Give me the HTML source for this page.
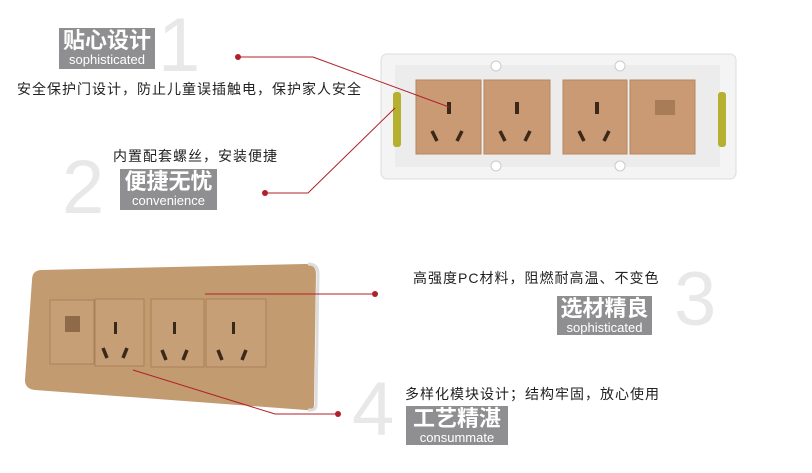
<!DOCTYPE html>
<html><head><meta charset="utf-8"><style>
body{margin:0;width:812px;height:473px;background:#fff;position:relative;overflow:hidden;font-family:"Liberation Sans","Noto Sans CJK SC",sans-serif}
.a{position:absolute}
.box{position:absolute;background:#8f8f91;color:#fff;text-align:center;line-height:1}
.box .c{font-size:22px;font-weight:bold;display:block;margin-top:2px}
.box .e{font-size:13px;display:block;margin-top:1px}
.big{position:absolute;color:#e8e8e8;font-size:76px;font-family:"Liberation Sans",sans-serif;line-height:1}
.t{position:absolute;font-size:14px;letter-spacing:1px;color:#222;white-space:nowrap}
</style></head><body>
<div class="big" style="left:158px;top:8px">1</div>
<div class="box" style="left:59px;top:28px;width:96px;height:41px"><span class="c">贴心设计</span><span class="e">sophisticated</span></div>
<div class="t" style="left:17px;top:79px">安全保护门设计，防止儿童误插触电，保护家人安全</div>
<div class="big" style="left:62px;top:150px">2</div>
<div class="t" style="left:113px;top:146px">内置配套螺丝，安装便捷</div>
<div class="box" style="left:120px;top:169px;width:97px;height:41px"><span class="c">便捷无忧</span><span class="e">convenience</span></div>
<div class="big" style="left:674px;top:262px">3</div>
<div class="t" style="left:413px;top:268px">高强度PC材料，阻燃耐高温、不变色</div>
<div class="box" style="left:557px;top:296px;width:95px;height:39px"><span class="c">选材精良</span><span class="e">sophisticated</span></div>
<div class="big" style="left:352px;top:372px">4</div>
<div class="t" style="left:405px;top:384px">多样化模块设计；结构牢固，放心使用</div>
<div class="box" style="left:406px;top:406px;width:102px;height:39px"><span class="c">工艺精湛</span><span class="e">consummate</span></div>
<svg class="a" style="left:0;top:0" width="812" height="473">
<rect x="381" y="54" width="355" height="125" rx="6" fill="#f4f4f4" stroke="#ddd"/>
<rect x="395" y="65" width="325" height="102" fill="#ececec"/>
<circle cx="496" cy="66" r="5" fill="#fff" stroke="#ccc"/><circle cx="620" cy="66" r="5" fill="#fff" stroke="#ccc"/>
<circle cx="496" cy="166" r="5" fill="#fff" stroke="#ccc"/><circle cx="620" cy="166" r="5" fill="#fff" stroke="#ccc"/>
<rect x="393" y="92" width="8" height="55" rx="3" fill="#b5b030"/>
<rect x="718" y="92" width="8" height="55" rx="3" fill="#b5b030"/>
<g fill="#c99a74" stroke="#b5865f">
<rect x="416" y="80" width="65" height="74"/><rect x="484" y="80" width="66" height="74"/>
<rect x="563" y="80" width="64" height="74"/><rect x="630" y="80" width="65" height="74"/></g>
<g fill="#3a2818">
<rect x="447" y="102" width="4" height="12"/><rect x="515" y="102" width="4" height="12"/><rect x="595" y="102" width="4" height="12"/>
<rect x="655" y="100" width="20" height="15" fill="#a97c58"/></g>
<g stroke="#3a2818" stroke-width="3.5">
<line x1="432" y1="131" x2="437" y2="141"/><line x1="462" y1="131" x2="457" y2="141"/>
<line x1="500" y1="131" x2="505" y2="141"/><line x1="530" y1="131" x2="525" y2="141"/>
<line x1="579" y1="131" x2="584" y2="141"/><line x1="609" y1="131" x2="604" y2="141"/></g>
<path d="M32 280 Q32 270 42 270 L305 264 Q316 264 316 274 L314 405 Q314 411 306 410 L35 390 Q25 389 25 380 Z" fill="#c39b70"/>
<path d="M308 264 Q318 264 318 274 L316 405 Q316 411 308 410" fill="none" stroke="#ddd" stroke-width="3"/>
<g fill="#c69f77" stroke="#a8805a">
<rect x="50" y="300" width="44" height="64"/><rect x="95" y="299" width="49" height="67"/>
<rect x="151" y="299" width="53" height="68"/><rect x="206" y="299" width="60" height="68"/></g>
<rect x="65" y="316" width="15" height="16" fill="#8e6a48"/>
<g fill="#3a2818"><rect x="114" y="322" width="3" height="12"/><rect x="173" y="322" width="3" height="12"/><rect x="232" y="322" width="3" height="12"/></g>
<g stroke="#3a2818" stroke-width="3.5">
<line x1="103" y1="348" x2="107" y2="358"/><line x1="127" y1="348" x2="123" y2="358"/>
<line x1="162" y1="350" x2="166" y2="360"/><line x1="187" y1="350" x2="183" y2="360"/>
<line x1="218" y1="350" x2="222" y2="360"/><line x1="246" y1="350" x2="242" y2="360"/></g>
<g stroke="#b0202a" stroke-width="1" fill="none">
<polyline points="238,57 313,57 449,107"/>
<polyline points="265,193 308,193 395,108"/>
<line x1="205" y1="294" x2="375" y2="294"/>
<polyline points="338,414 275,414 133,370"/></g>
<g fill="#b0202a"><circle cx="238" cy="57" r="3"/><circle cx="265" cy="193" r="3"/><circle cx="375" cy="294" r="3"/><circle cx="338" cy="414" r="3"/></g>
</svg>
</body></html>
